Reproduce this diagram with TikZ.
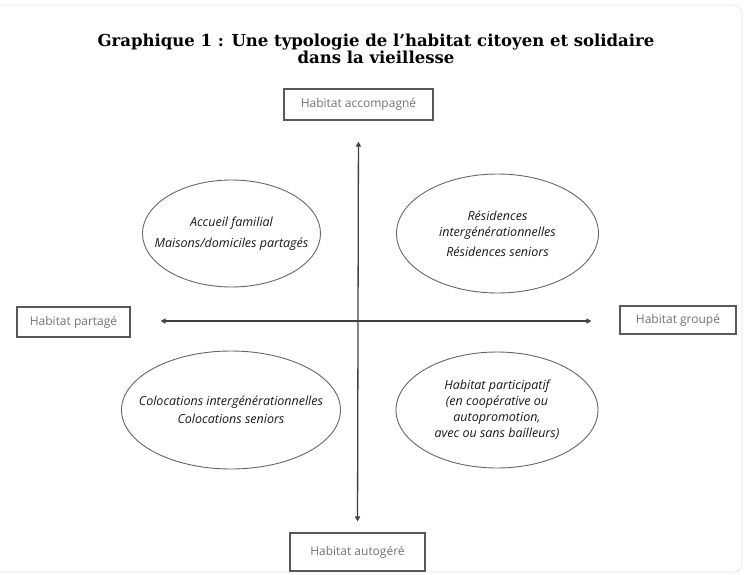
\documentclass[tikz,border=0pt]{standalone}
\usepackage{fontspec}
\setmainfont{DejaVu Serif}
\newfontfamily\boxfont{Open Sans}
\newfontfamily\ellfont{Open Sans}
\usetikzlibrary{shapes.geometric,arrows.meta}
\begin{document}
\begin{tikzpicture}[x=1pt,y=-1pt,
  axisbox/.style={draw=black!65,line width=1.1pt,fill=white,inner sep=0pt,
    font=\boxfont\fontsize{12}{14}\selectfont,text=black!55},
  quad/.style={draw=black!60,line width=0.9pt,ellipse,inner sep=-40pt,
    font=\ellfont\itshape\fontsize{12.5}{16}\selectfont,text=black!90,align=center},
  axis/.style={draw=black!75,line width=1.3pt,{Triangle[length=5pt,width=5pt]}-{Triangle[length=5pt,width=5pt]}}]
\useasboundingbox (0,0) rectangle (745,574);
\draw[black!10,line width=0.8pt,rounded corners=8pt] (-10,5) rectangle (742,572);
\node[font=\bfseries\fontsize{16.5}{16}\selectfont,align=center] (title) at (376,49)
  {Graphique 1 : Une typologie de l’habitat citoyen et solidaire\\ dans la vieillesse};
\node[axisbox,minimum width=149pt,minimum height=31pt] (top) at (358.5,104.5) {Habitat accompagné};
\node[axisbox,minimum width=135pt,minimum height=38pt] (bot) at (357.5,552) {Habitat autogéré};
\node[axisbox,minimum width=113pt,minimum height=30pt] (left) at (73.5,322) {Habitat partagé};
\node[axisbox,minimum width=116pt,minimum height=28pt] (right) at (678,320) {Habitat groupé};
\draw[axis,shorten <=21pt,shorten >=11pt] (top.south) -- (bot.north);
\draw[axis,shorten <=30pt,shorten >=28pt] (left.east |- 0,321) -- (right.west |- 0,321);
\node[quad,minimum width=178pt,minimum height=107pt] (tl) at (231.5,233.5)
  {Accueil familial\\[5pt] Maisons/domiciles partagés};
\node[quad,minimum width=202pt,minimum height=119pt] (tr) at (497.5,233.5)
  {Résidences\\ intergénérationnelles\\[4pt] Résidences seniors};
\node[quad,minimum width=219pt,minimum height=118pt] (bl) at (231,410)
  {Colocations intergénérationnelles\\[2pt] Colocations seniors};
\node[quad,minimum width=202pt,minimum height=116pt] (br) at (497,410)
  {Habitat participatif\\ (en coopérative ou\\ autopromotion,\\ avec ou sans bailleurs)};
\end{tikzpicture}
\end{document}
